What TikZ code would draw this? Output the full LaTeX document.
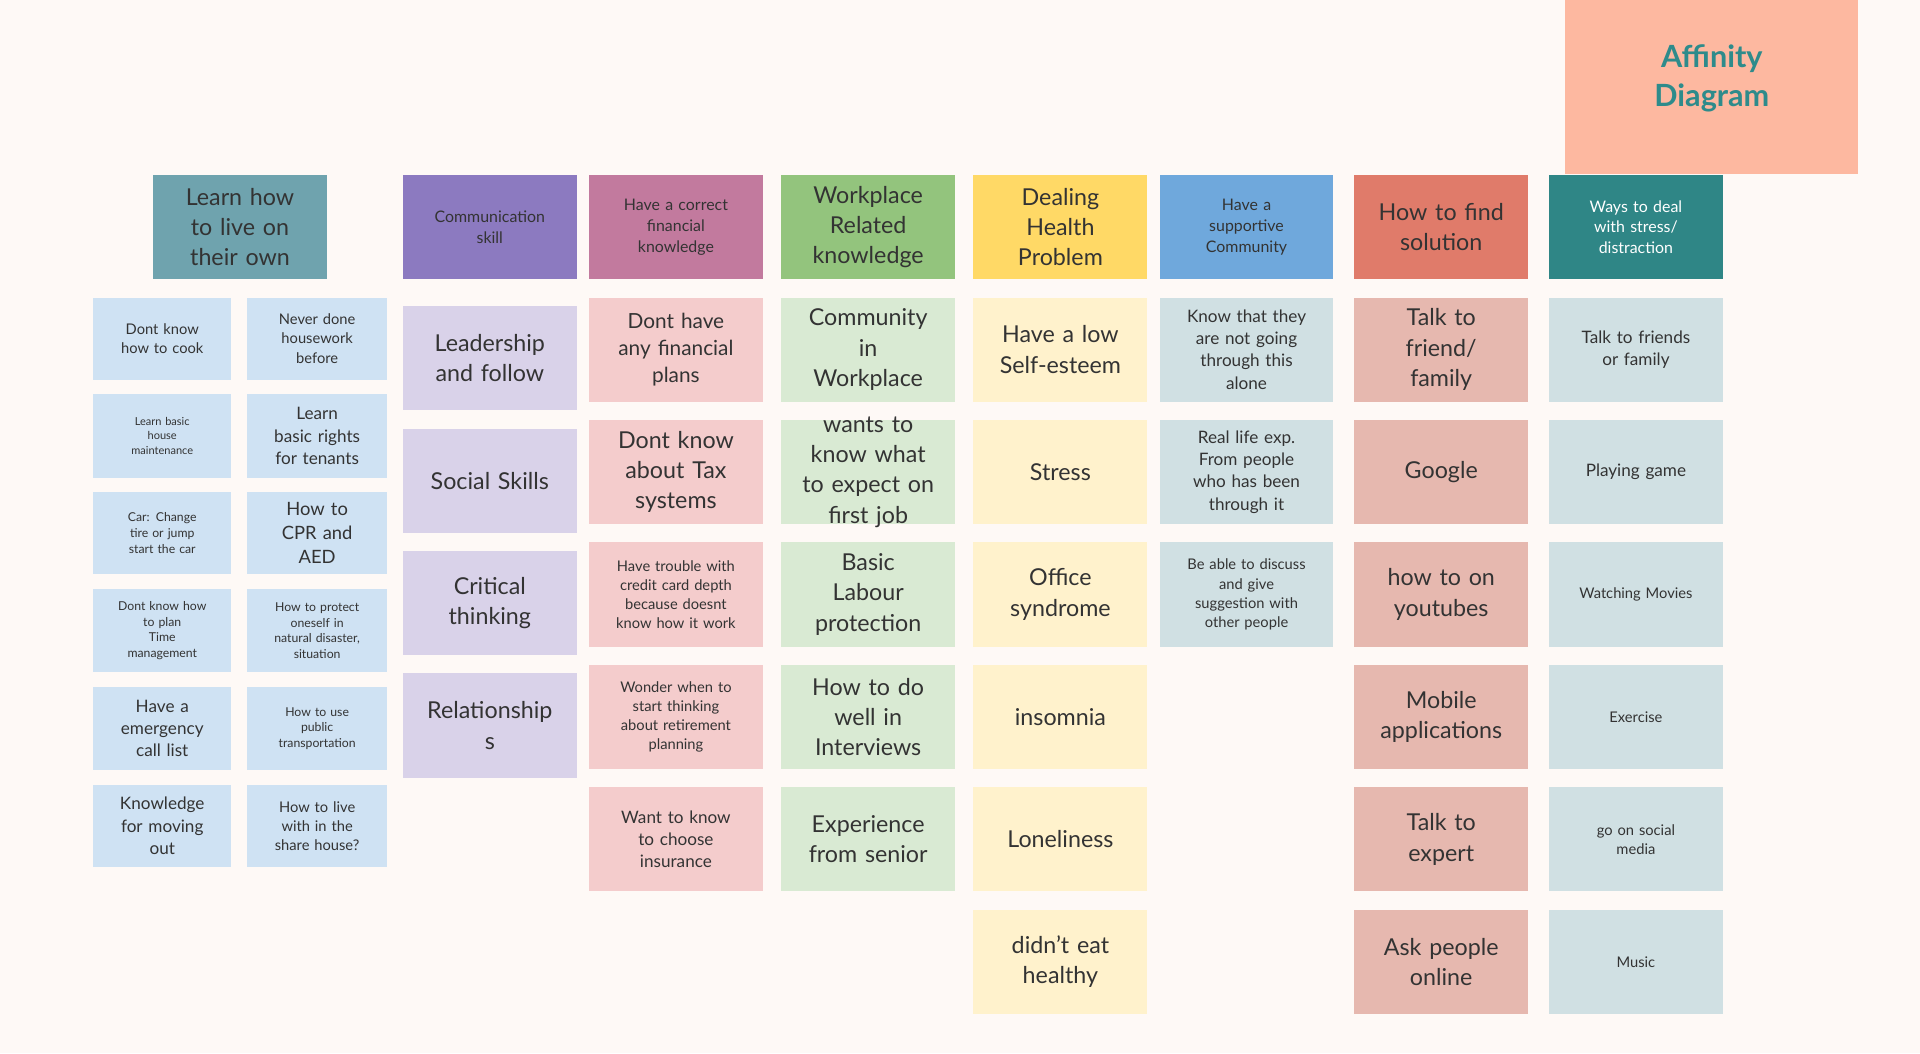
\documentclass[tikz,border=0pt]{standalone}
\usepackage{fontspec}
\setmainfont{Lato}
\definecolor{bg}{HTML}{FEF9F6}
\definecolor{h1}{HTML}{6FA3AE}\definecolor{h2}{HTML}{8C7AC0}\definecolor{h3}{HTML}{C27A9E}
\definecolor{h4}{HTML}{93C47D}\definecolor{h5}{HTML}{FFD966}\definecolor{h6}{HTML}{6FA8DC}
\definecolor{h7}{HTML}{E07B6A}\definecolor{h8}{HTML}{2F8686}
\definecolor{c1}{HTML}{CFE2F3}\definecolor{c2}{HTML}{D9D2E9}\definecolor{c3}{HTML}{F4CCCC}
\definecolor{c4}{HTML}{D9EAD3}\definecolor{c5}{HTML}{FFF2CC}\definecolor{c6}{HTML}{D0E0E3}
\definecolor{c7}{HTML}{E6B8AF}\definecolor{c8}{HTML}{D0E0E3}
\definecolor{aff}{HTML}{FDB8A0}\definecolor{afft}{HTML}{2E8B8B}
\definecolor{tx}{HTML}{333333}
\tikzset{card/.style={anchor=center,inner sep=0pt,align=center,text=tx}}
\newcommand{\card}[8]{\fill[#6] (#2,-#3) rectangle (#2+#4,-#3-#5);
 \node[card,font=\fontsize{#7}{\dimexpr #7pt*13/10\relax}\selectfont,text width=\dimexpr #4pt-6pt\relax] (#1) at (#2+#4/2,-#3-#5/2) {#8};}
\begin{document}
\begin{tikzpicture}[x=1pt,y=1pt]
\fill[bg] (0,0) rectangle (1568,-860);
\useasboundingbox (0,0) rectangle (1568,-860);
\fill[aff] (1278,0) rectangle (1517,-142);
\node[font=\bfseries\fontsize{25}{32}\selectfont,text=afft,align=center] (title) at (1398,-64) {Affinity\\Diagram};
% column 1
\card{a0}{125}{143}{142}{85}{h1}{19}{Learn how\\to live on\\their own}
\card{a1}{76}{243}{113}{67}{c1}{12}{Dont know\\how to cook}
\card{a2}{202}{243}{114}{67}{c1}{12}{Never done\\housework\\before}
\card{a3}{76}{322}{113}{68}{c1}{9}{Learn basic\\house\\maintenance}
\card{a4}{202}{322}{114}{68}{c1}{14}{Learn\\basic rights\\for tenants}
\card{a5}{76}{402}{113}{67}{c1}{10}{Car: Change\\tire or jump\\start the car}
\card{a6}{202}{402}{114}{67}{c1}{15}{How to\\CPR and\\AED}
\card{a7}{76}{481}{113}{68}{c1}{10}{Dont know how\\to plan\\Time\\management}
\card{a8}{202}{481}{114}{68}{c1}{10}{How to protect\\oneself in\\natural disaster,\\situation}
\card{a9}{76}{561}{113}{68}{c1}{14}{Have a\\emergency\\call list}
\card{a10}{202}{561}{114}{68}{c1}{10}{How to use\\public\\transportation}
\card{a11}{76}{641}{113}{67}{c1}{14}{Knowledge\\for moving\\out}
\card{a12}{202}{641}{114}{67}{c1}{12}{How to live\\with in the\\share house?}
% column 2
\card{b0}{329}{143}{142}{85}{h2}{13}{Communication\\skill}
\card{b1}{329}{250}{142}{85}{c2}{19}{Leadership\\and follow}
\card{b2}{329}{350}{142}{85}{c2}{19}{Social Skills}
\card{b3}{329}{450}{142}{85}{c2}{19}{Critical\\thinking}
\card{b4}{329}{550}{142}{85}{c2}{19}{Relationship\\s}
% column 3
\card{c0}{481}{143}{142}{85}{h3}{13}{Have a correct\\financial\\knowledge}
\card{cc1}{481}{243}{142}{85}{c3}{17}{Dont have\\any financial\\plans}
\card{cc2}{481}{343}{142}{85}{c3}{19}{Dont know\\about Tax\\systems}
\card{cc3}{481}{443}{142}{85}{c3}{12}{Have trouble with\\credit card depth\\because doesnt\\know how it work}
\card{cc4}{481}{543}{142}{85}{c3}{12}{Wonder when to\\start thinking\\about retirement\\planning}
\card{cc5}{481}{643}{142}{85}{c3}{14}{Want to know\\to choose\\insurance}
% column 4
\card{d0}{638}{143}{142}{85}{h4}{19}{Workplace\\Related\\knowledge}
\card{d1}{638}{243}{142}{85}{c4}{19}{Community\\in\\Workplace}
\card{d2}{638}{343}{142}{85}{c4}{19}{wants to\\know what\\to expect on\\first job}
\card{d3}{638}{443}{142}{85}{c4}{19}{Basic\\Labour\\protection}
\card{d4}{638}{543}{142}{85}{c4}{19}{How to do\\well in\\Interviews}
\card{d5}{638}{643}{142}{85}{c4}{19}{Experience\\from senior}
% column 5
\card{e0}{795}{143}{142}{85}{h5}{19}{Dealing\\Health\\Problem}
\card{e1}{795}{243}{142}{85}{c5}{19}{Have a low\\Self-esteem}
\card{e2}{795}{343}{142}{85}{c5}{19}{Stress}
\card{e3}{795}{443}{142}{85}{c5}{19}{Office\\syndrome}
\card{e4}{795}{543}{142}{85}{c5}{19}{insomnia}
\card{e5}{795}{643}{142}{85}{c5}{19}{Loneliness}
\card{e6}{795}{743}{142}{85}{c5}{19}{didn't eat\\healthy}
% column 6
\card{f0}{947}{143}{142}{85}{h6}{13}{Have a\\supportive\\Community}
\card{f1}{947}{243}{142}{85}{c6}{14}{Know that they\\are not going\\through this\\alone}
\card{f2}{947}{343}{142}{85}{c6}{14}{Real life exp.\\From people\\who has been\\through it}
\card{f3}{947}{443}{142}{85}{c6}{12}{Be able to discuss\\and give\\suggestion with\\other people}
% column 7
\card{g0}{1106}{143}{142}{85}{h7}{19}{How to find\\solution}
\card{g1}{1106}{243}{142}{85}{c7}{19}{Talk to\\friend/\\family}
\card{g2}{1106}{343}{142}{85}{c7}{19}{Google}
\card{g3}{1106}{443}{142}{85}{c7}{19}{how to on\\youtubes}
\card{g4}{1106}{543}{142}{85}{c7}{19}{Mobile\\applications}
\card{g5}{1106}{643}{142}{85}{c7}{19}{Talk to\\expert}
\card{g6}{1106}{743}{142}{85}{c7}{19}{Ask people\\online}
% column 8
\card{h0}{1265}{143}{142}{85}{h8}{13}{\color{white}Ways to deal\\\color{white}with stress/\\\color{white}distraction}
\card{hh1}{1265}{243}{142}{85}{c8}{14}{Talk to friends\\or family}
\card{hh2}{1265}{343}{142}{85}{c8}{14}{Playing game}
\card{hh3}{1265}{443}{142}{85}{c8}{12}{Watching Movies}
\card{hh4}{1265}{543}{142}{85}{c8}{12}{Exercise}
\card{hh5}{1265}{643}{142}{85}{c8}{12}{go on social\\media}
\card{hh6}{1265}{743}{142}{85}{c8}{12}{Music}
\end{tikzpicture}
\end{document}
